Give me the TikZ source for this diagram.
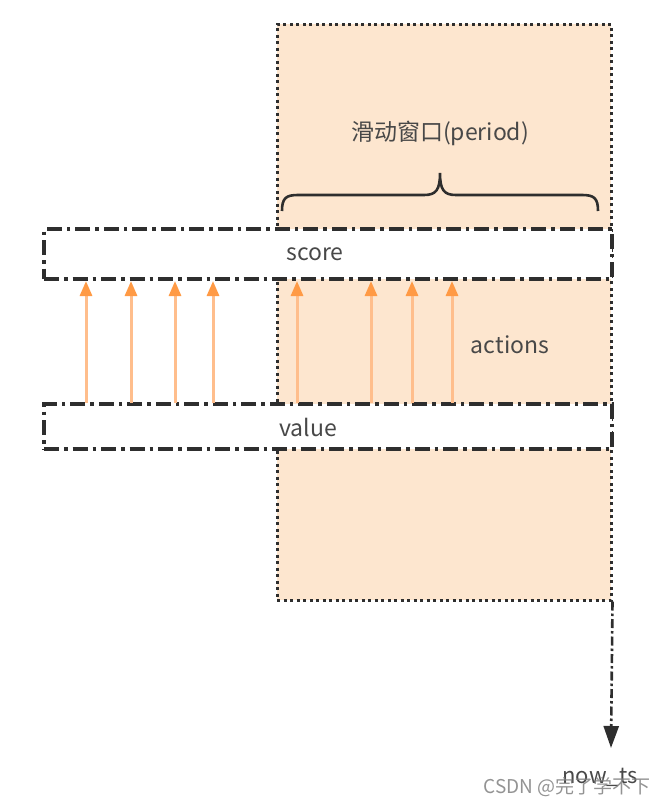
\documentclass[tikz,border=0pt]{standalone}
\usepackage{fontspec}
\setmainfont{Noto Sans CJK SC}
\usetikzlibrary{arrows.meta}

\definecolor{windowfill}{HTML}{FDE6CF}
\definecolor{tipcolor}{HTML}{FF9A45}
\definecolor{shaftcolor}{HTML}{FFBE8C}
\definecolor{linegray}{HTML}{2E2E2E}
\definecolor{textgray}{HTML}{484848}

\begin{document}
\begin{tikzpicture}[x=1pt,y=-1pt]
            \tikzset{window/.style = {fill=windowfill, draw=linegray, line width=3pt, dash pattern=on 3pt off 3.5pt, inner sep=0pt}}
            \tikzset{band/.style = {draw=linegray, fill=white, line width=3.2pt, dash pattern=on 15pt off 5pt on 3.5pt off 5pt, minimum width=568pt, inner sep=0pt}}
            \tikzset{action/.style = {draw=shaftcolor, line width=3pt, -{Triangle[length=15pt,width=12pt,color=tipcolor]}}}
            \tikzset{timeline/.style = {draw=linegray, line width=2.6pt, dash pattern=on 9pt off 3pt on 2.5pt off 3pt, -{Triangle[length=22pt,width=15pt]}}}
            \tikzset{tag/.style = {text=textgray, font=\fontsize{23}{23}\selectfont, inner sep=0pt}}

            \useasboundingbox (0,0) rectangle (665,806);

            % window and bands
            \node[window, minimum width=334pt, minimum height=576pt] (window) at (444,312) {};
            \node[band, minimum height=50pt] (score) at (328,254) {};
            \node[band, minimum height=45pt] (value) at (328,426.5) {};
            \node[tag] (scoretext) at (315,254) {score};
            \node[tag] (valuetext) at (308,427) {value};
            \node[tag] (actions) at (510,345) {actions};
            \node[tag] (period) at (440,133) {滑动窗口(period)};

            % brace
            \draw[linegray, line width=2.6pt] (282,211) .. controls (282,198) and (286,195) .. (298,195)
              -- (424,195) .. controls (436,195) and (440,190) .. (440,173)
              .. controls (440,190) and (444,195) .. (456,195)
              -- (582,195) .. controls (594,195) and (598,198) .. (598,211);

            % actions
            \foreach \x [count=\i] in {86,131,175,213,297,371,412,452}
            {
              \coordinate (v\i) at (\x,403);
              \coordinate (s\i) at (\x,281);
              \draw[action] (v\i) to (s\i);
            }

            % now
            \coordinate (now) at (611,748);
            \draw[timeline] (window.south east) to (now);
            \node[tag, font=\fontsize{22}{22}\selectfont] (nowts) at (600,777) {now\_ts};
            \node[text=gray, opacity=0.85, font=\fontsize{19}{19}\selectfont, anchor=east, inner sep=0pt] (mark) at (651,787) {CSDN @完了学不下};
\end{tikzpicture}
\end{document}
